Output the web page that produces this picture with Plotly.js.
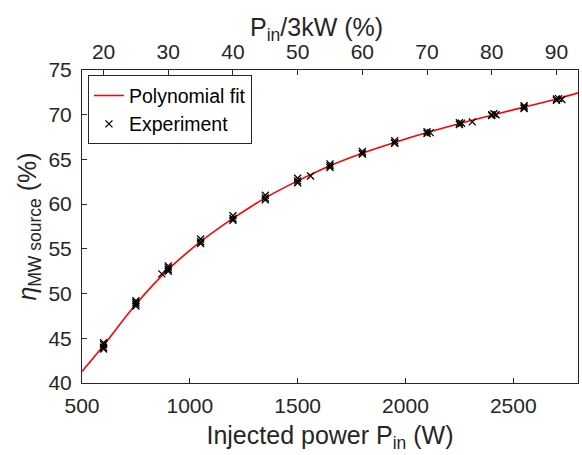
<!DOCTYPE html>
<html>
<head>
<meta charset="utf-8">
<script src="https://cdn.plot.ly/plotly-3.0.1.min.js"></script>
<style>html,body{margin:0;padding:0;background:#fff;}#chart{width:582px;height:455px;}</style>
</head>
<body>
<div id="chart"></div>
<script>
// Polynomial fit curve
const fitPower = [500, 600, 750, 900, 1050, 1200, 1350, 1500, 1650, 1800, 1950, 2100, 2250, 2400, 2550, 2700, 2800];
const fitEff   = [41.3, 44.2, 48.8, 52.7, 55.8, 58.4, 60.7, 62.6, 64.3, 65.7, 66.9, 68.0, 69.0, 69.95, 70.85, 71.75, 72.45];

// Experimental points (several repeated measurements per power level)
const expPower = [600, 600, 600, 600, 750, 750, 750, 750, 870, 900, 900, 900, 900,
                  1050, 1050, 1050, 1200, 1200, 1200, 1350, 1350, 1350, 1500, 1500, 1500,
                  1560, 1650, 1650, 1650, 1800, 1800, 1800, 1950, 1950, 1950,
                  2100, 2100, 2115, 2250, 2250, 2260, 2310, 2400, 2400, 2410, 2420,
                  2550, 2550, 2550, 2700, 2700, 2710, 2725];
const expEff   = [43.8, 44.0, 44.3, 44.5, 48.6, 48.8, 49.0, 49.2, 52.2, 52.5, 52.7, 52.9, 53.1,
                  55.6, 55.8, 56.1, 58.2, 58.4, 58.7, 60.5, 60.7, 61.0, 62.4, 62.6, 62.9,
                  63.15, 64.1, 64.3, 64.5, 65.6, 65.7, 65.9, 66.8, 66.9, 67.1,
                  67.9, 68.1, 68.0, 68.9, 69.1, 69.05, 69.2, 69.9, 70.0, 70.1, 70.0,
                  70.7, 70.85, 71.0, 71.6, 71.75, 71.8, 71.7];

// Tick labels
const bottomTicks = [500, 1000, 1500, 2000, 2500];
const topTicks = [20, 30, 40, 50, 60, 70, 80, 90];
const leftTicks = [40, 45, 50, 55, 60, 65, 70, 75];
const xRange = [500, 2800];
const yRange = [40, 75];

const fontFam = 'Liberation Sans, Arial, Helvetica, sans-serif';
const axisCol = '#262626';

const traces = [
  {x: fitPower, y: fitEff, type: 'scatter', mode: 'lines', name: 'Polynomial fit',
   line: {color: '#ff0000', width: 1.6, shape: 'spline', smoothing: 1}},
  {x: expPower, y: expEff, type: 'scatter', mode: 'markers', name: 'Experiment',
   marker: {symbol: 'x-thin', size: 7, line: {color: '#000', width: 1.3}, color: '#000'}},
  {x: [xRange[0] / 30, xRange[1] / 30], y: [yRange[0], yRange[0]], xaxis: 'x2', yaxis: 'y',
   type: 'scatter', mode: 'lines', line: {width: 0}, hoverinfo: 'skip', showlegend: false}
];

const layout = {
  width: 582, height: 455,
  margin: {l: 82, r: 4, t: 70, b: 72},
  paper_bgcolor: '#fff', plot_bgcolor: '#fff',
  font: {family: fontFam, size: 21, color: axisCol},
  showlegend: true,
  legend: {x: 0.012, y: 0.983, xanchor: 'left', yanchor: 'top',
           bgcolor: '#fff', bordercolor: axisCol, borderwidth: 1,
           font: {family: fontFam, size: 19.5, color: '#000'}, tracegroupgap: 0, itemwidth: 30},
  xaxis: {range: xRange, tickvals: bottomTicks, ticks: 'inside', ticklen: 5,
          tickcolor: axisCol, showline: true, linecolor: axisCol, linewidth: 1, mirror: false,
          showgrid: false, zeroline: false, tickfont: {size: 21}, ticklabelstandoff: 4,
          title: {text: 'Injected power P<sub>in</sub> (W)', font: {size: 25}, standoff: 10}},
  xaxis2: {range: [xRange[0] / 30, xRange[1] / 30], overlaying: 'x', side: 'top', anchor: 'y',
           tickvals: topTicks, ticks: 'inside', ticklen: 5, tickcolor: axisCol,
           showline: true, linecolor: axisCol, linewidth: 1, showgrid: false, zeroline: false,
           tickfont: {size: 21}, ticklabelstandoff: 2},
  yaxis: {range: yRange, tickvals: leftTicks, ticks: 'inside', ticklen: 5,
          tickcolor: axisCol, showline: true, linecolor: axisCol, linewidth: 1, mirror: true,
          showgrid: false, zeroline: false, tickfont: {size: 21}, ticklabelstandoff: 5,
          title: {text: '<i>η</i><sub>MW source</sub> (%)', font: {size: 25}, standoff: 4}},
  annotations: [
    {text: 'P<sub>in</sub>/3kW (%)', xref: 'paper', yref: 'paper', x: 0.472, y: 1.19,
     xanchor: 'center', yanchor: 'top', showarrow: false, font: {size: 25, color: axisCol}}
  ]
};

Plotly.newPlot('chart', traces, layout, {displayModeBar: false, staticPlot: true});
</script>
</body>
</html>
